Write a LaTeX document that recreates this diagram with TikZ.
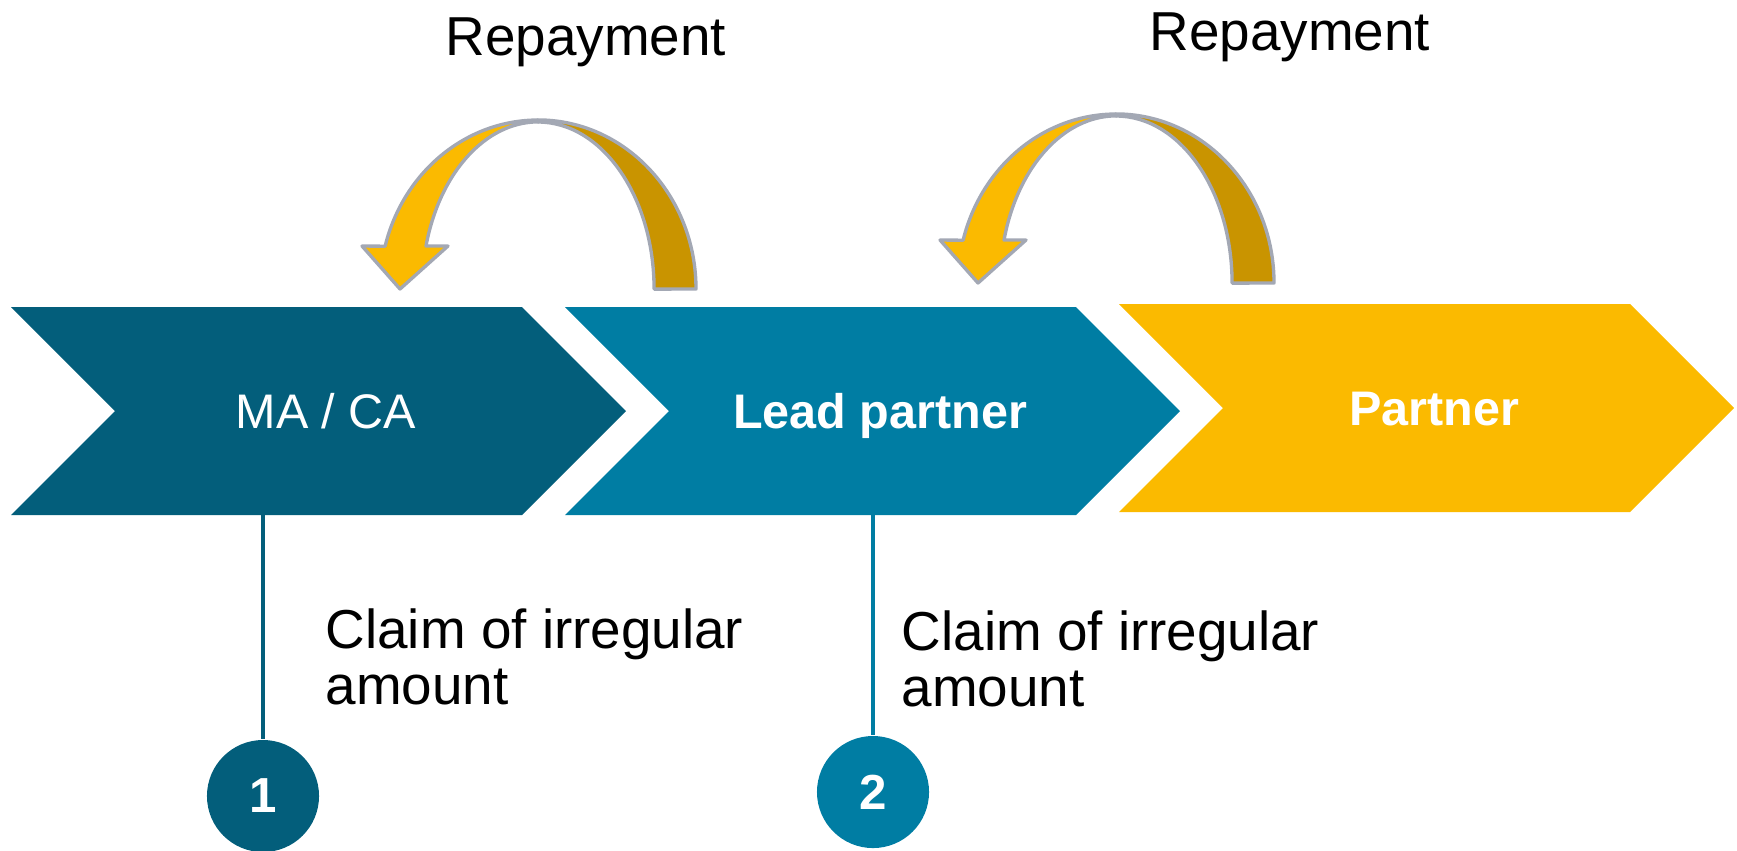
\documentclass[tikz,border=0pt]{standalone}
\usepackage{fontspec}
\setmainfont{Liberation Sans}
\usepackage{xcolor}
\usetikzlibrary{calc}
\definecolor{macolor}{HTML}{035E7B}
\definecolor{leadcolor}{HTML}{007DA3}
\definecolor{partnercolor}{HTML}{FBBA00}
\definecolor{backcolor}{HTML}{C99400}
\definecolor{rimcolor}{HTML}{A3A8B4}
\tikzset{
  chevtext/.style={text=white, inner sep=0pt, font=\fontsize{13.8}{16}\selectfont},
  labeltext/.style={text=black, inner sep=0pt, align=left, font=\fontsize{15.6}{15.9}\selectfont},
  numdot/.style={circle, minimum size=1.12cm, inner sep=0pt, text=white, font=\fontsize{14}{16}\selectfont\bfseries},
  stem/.style={line width=1.4pt},
  band/.style={draw=rimcolor, line width=0.95pt, line join=round},
}

\begin{document}
\begin{tikzpicture}[x=0.01cm, y=-0.01cm]
        \useasboundingbox (0,0) rectangle (1737,850);
        \coordinate (ma-foot) at (263,515);
        \coordinate (lead-foot) at (873,515);
          % MA / CA
          \fill[macolor] (11,307) -- (522,307) -- (626,411) -- (522,515) -- (11,515) -- (115,411) -- cycle;
          % Lead partner
          \fill[leadcolor] (565,307) -- (1076,307) -- (1180,411) -- (1076,515) -- (565,515) -- (669,411) -- cycle;
          % Partner
          \fill[partnercolor] (1119,304) -- (1630,304) -- (1734,408) -- (1630,512) -- (1119,512) -- (1223,408) -- cycle;

          % repayment arrow 1
          \filldraw[band, fill=backcolor] (696,289) arc[start angle=0, end angle=90, x radius=1.58cm, y radius=1.69cm]
              -- (538,122) arc[start angle=90, end angle=0, x radius=1.16cm, y radius=1.67cm] -- cycle;
          \filldraw[band, fill=partnercolor] (538,120) arc[start angle=90, end angle=165.3, x radius=1.58cm, y radius=1.69cm]
              -- (362,246) -- (400,289) -- (448,246) -- (426,246)
              arc[start angle=165.1, end angle=90, x radius=1.16cm, y radius=1.67cm] -- cycle;
          % repayment arrow 2
          \begin{scope}[shift={(578,-6)}]
          \filldraw[band, fill=backcolor] (696,289) arc[start angle=0, end angle=90, x radius=1.58cm, y radius=1.69cm]
              -- (538,122) arc[start angle=90, end angle=0, x radius=1.16cm, y radius=1.67cm] -- cycle;
          \filldraw[band, fill=partnercolor] (538,120) arc[start angle=90, end angle=165.3, x radius=1.58cm, y radius=1.69cm]
              -- (362,246) -- (400,289) -- (448,246) -- (426,246)
              arc[start angle=165.1, end angle=90, x radius=1.16cm, y radius=1.67cm] -- cycle;
          \end{scope}

          % numbered steps
          \node[numdot, fill=macolor] (num1) at (263,796) {1};
          \node[numdot, fill=leadcolor] (num2) at (873,792) {2};
          \draw[stem, macolor] (ma-foot) -- (num1.north);
          \draw[stem, leadcolor] (lead-foot) -- (num2.north);

          % Labels
          \node[chevtext, anchor=base] (ma) at (326,428) {MA / CA};
          \node[chevtext, anchor=base, font=\fontsize{13.8}{16}\selectfont\bfseries] (lead) at (880,428) {Lead partner};
          \node[chevtext, anchor=base, font=\fontsize{13.8}{16}\selectfont\bfseries] (partner) at (1434,425) {Partner};
          \node[labeltext, anchor=base] (rep1) at (586,55) {Repayment};
          \node[labeltext, anchor=base] (rep2) at (1290,50) {Repayment};
          \node[labeltext, anchor=base west] (claim1) at (325,704) {Claim of irregular\\amount};
          \node[labeltext, anchor=base west] (claim2) at (901,706) {Claim of irregular\\amount};
     \end{tikzpicture}
\end{document}
